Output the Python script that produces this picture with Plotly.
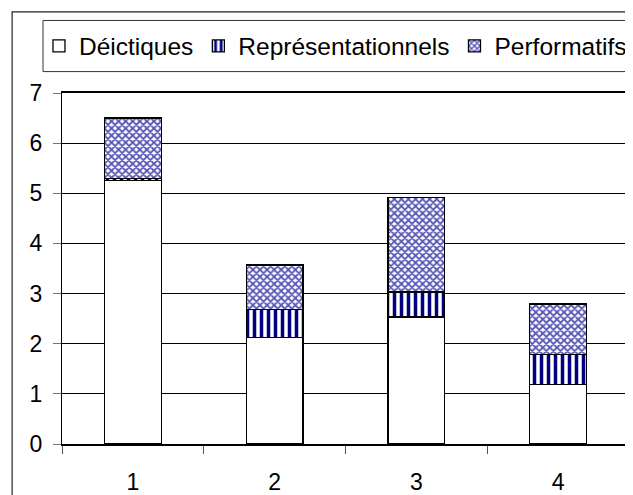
import plotly.graph_objects as go

# values
categories = ["1", "2", "3", "4"]
deictiques = [5.26, 2.12, 2.53, 1.18]
representationnels = [0.03, 0.56, 0.50, 0.60]
performatifs = [1.21, 0.89, 1.89, 1.01]

series_names = ["Déictiques", "Représentationnels", "Performatifs"]

FONT = "Liberation Sans, Arial, sans-serif"

fig = go.Figure()

fig.add_trace(go.Bar(
    x=categories, y=deictiques, name=series_names[0],
    marker=dict(color="white", line=dict(color="black", width=1.3)),
))
fig.add_trace(go.Bar(
    x=categories, y=representationnels, name=series_names[1],
    marker=dict(color="white", line=dict(color="black", width=1.3),
                pattern=dict(shape="|", size=7, solidity=0.5,
                             fgcolor="#000080", bgcolor="white",
                             fgopacity=1, fillmode="replace")),
))
fig.add_trace(go.Bar(
    x=categories, y=performatifs, name=series_names[2],
    marker=dict(color="white", line=dict(color="black", width=1.3),
                pattern=dict(shape="x", size=5, solidity=0.6,
                             fgcolor="#5858b8", bgcolor="white",
                             fgopacity=1, fillmode="replace")),
))

# outer chart frame and legend frame
fig.add_shape(type="rect", xref="paper", yref="paper",
              x0=-0.088, x1=1.2, y0=-0.3, y1=1.231,
              line=dict(color="#222", width=1.2), fillcolor="rgba(0,0,0,0)")
fig.add_shape(type="rect", xref="paper", yref="paper",
              x0=-0.0335, x1=1.2, y0=1.061, y1=1.2066,
              line=dict(color="#333", width=1), fillcolor="rgba(0,0,0,0)")

fig.update_layout(
    width=633, height=495,
    margin=dict(l=54, r=12, t=85, b=59, autoexpand=False),
    barmode="stack", bargap=0.6,
    paper_bgcolor="white", plot_bgcolor="white",
    font=dict(family=FONT, size=23, color="black"),
    legend=dict(orientation="h", x=-0.0406, y=1.134,
                xanchor="left", yanchor="middle",
                font=dict(size=24.5), bgcolor="rgba(0,0,0,0)",
                borderwidth=0, traceorder="normal"),
    xaxis=dict(type="category", tickson="boundaries", automargin=False,
               showline=True, linecolor="black", linewidth=1.5, mirror=True,
               ticks="outside", ticklen=8, tickcolor="#555",
               ticklabelstandoff=17, showgrid=False),
    yaxis=dict(range=[0, 7], dtick=1, showgrid=True, gridcolor="black",
               gridwidth=1, showline=True, linecolor="black", linewidth=1.2,
               mirror=True, ticks="outside", ticklen=8, tickcolor="#777",
               ticklabelstandoff=6, zeroline=False, automargin=False),
)

fig.write_html("out.html")
